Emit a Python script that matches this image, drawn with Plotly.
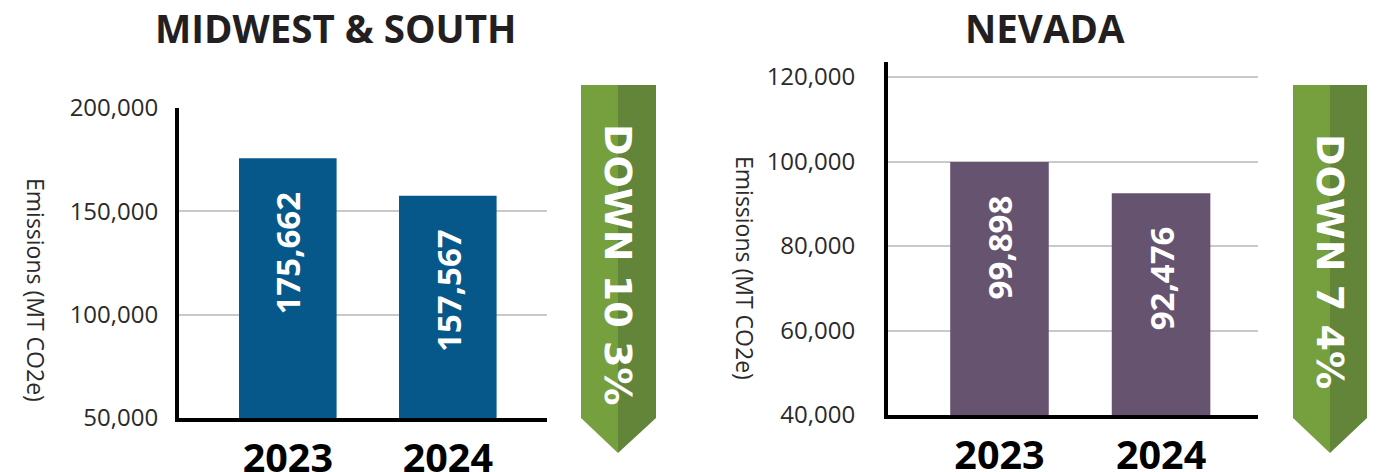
import plotly.graph_objects as go

W, H = 1389, 472

# ---- data ----
years = ["2023", "2024"]
midwest_values = [175662, 157567]
nevada_values = [99898, 92476]
midwest_title = "MIDWEST & SOUTH"
nevada_title = "NEVADA"
y_title = "Emissions (MT CO2e)"
midwest_change = "DOWN 10 3%"
nevada_change = "DOWN 7 4%"
midwest_ticks = [50000, 100000, 150000, 200000]
nevada_ticks = [40000, 60000, 80000, 100000, 120000]

# ---- style helpers (screen pixel -> paper); page body adds an 8px offset ----
OFF = 8

def px(x):
    return (x - OFF) / W

def py(y):
    return (H - (y - OFF)) / H

BLUE = "#07588a"
PURPLE = "#66536f"
GREEN_L = "#76a03e"
GREEN_D = "#62853a"
FONT = "Open Sans"

fig = go.Figure()
fig.add_trace(go.Bar(x=years, y=midwest_values, width=0.61, marker=dict(color=BLUE, line=dict(width=0)),
                     xaxis="x", yaxis="y", showlegend=False, hoverinfo="x+y"))
fig.add_trace(go.Bar(x=years, y=nevada_values, width=0.61, marker=dict(color=PURPLE, line=dict(width=0)),
                     xaxis="x2", yaxis="y2", showlegend=False, hoverinfo="x+y"))

axis_common_x = dict(type="category", showgrid=False, zeroline=False, showline=True, linecolor="#000000",
                     linewidth=4, ticks="", tickfont=dict(family=FONT, size=39.5, color="#000000", weight="bold"),
                     ticklabelstandoff=3, automargin=False, fixedrange=True)
axis_common_y = dict(showgrid=True, gridcolor="#c9c9cc", gridwidth=1.5, zeroline=False, showline=True,
                     linecolor="#000000", linewidth=4, ticks="", tickformat=",", automargin=False,
                     tickfont=dict(family=FONT, size=24, color="#2a2a2a"), fixedrange=True)

fig.update_layout(
    width=W, height=H,
    margin=dict(l=0, r=0, t=0, b=0, autoexpand=False),
    paper_bgcolor="#ffffff", plot_bgcolor="rgba(0,0,0,0)",
    xaxis=dict(domain=[px(179), px(547)], range=[-0.68, 1.62], anchor="y", **axis_common_x),
    yaxis=dict(domain=[py(418), py(108)], range=[50000, 200000], tickvals=midwest_ticks, anchor="x",
               ticklabelstandoff=12, **axis_common_y),
    xaxis2=dict(domain=[px(888), px(1258)], range=[-0.69, 1.60], anchor="y2", **axis_common_x),
    yaxis2=dict(domain=[py(415), py(62)], range=[40000, 123550], tickvals=nevada_ticks, anchor="x2",
                ticklabelstandoff=24, **axis_common_y),
)

annotations = []
# titles
annotations.append(dict(text=midwest_title, x=px(335), y=py(28), xref="paper", yref="paper",
                        xanchor="center", yanchor="middle", showarrow=False,
                        font=dict(family=FONT, size=38.5, color="#231f20", weight="bold")))
annotations.append(dict(text=nevada_title, x=px(1045), y=py(28), xref="paper", yref="paper",
                        xanchor="center", yanchor="middle", showarrow=False,
                        font=dict(family=FONT, size=38.5, color="#231f20", weight="bold")))
# y titles
annotations.append(dict(text=y_title, x=px(36), y=py(290), xref="paper", yref="paper", textangle=90,
                        xanchor="center", yanchor="middle", showarrow=False,
                        font=dict(family=FONT, size=23, color="#2a2a2a")))
annotations.append(dict(text=y_title, x=px(745), y=py(268), xref="paper", yref="paper", textangle=90,
                        xanchor="center", yanchor="middle", showarrow=False,
                        font=dict(family=FONT, size=23, color="#2a2a2a")))
# bar value labels (x given as category index)
for xr, yr, vals in [("x", "y", midwest_values), ("x2", "y2", nevada_values)]:
    for i, v in enumerate(vals):
        annotations.append(dict(text=f"{v:,}", x=i, y=v, xref=xr, yref=yr, textangle=-90,
                                xanchor="center", yanchor="top", yshift=-31, showarrow=False,
                                font=dict(family=FONT, size=33, color="#ffffff", weight="bold")))
# banner texts
annotations.append(dict(text=midwest_change, x=px(618), y=py(264), xref="paper", yref="paper", textangle=90,
                        xanchor="center", yanchor="middle", showarrow=False,
                        font=dict(family="DejaVu Sans", size=38, color="#ffffff", weight="bold")))
annotations.append(dict(text=nevada_change, x=px(1330), y=py(261), xref="paper", yref="paper", textangle=90,
                        xanchor="center", yanchor="middle", showarrow=False,
                        font=dict(family="DejaVu Sans", size=38, color="#ffffff", weight="bold")))

# banner shapes
def poly(points):
    return "M " + " L ".join(f"{px(a):.5f},{py(b):.5f}" for a, b in points) + " Z"

shapes = []
for left, mid, right in [(581, 618, 656), (1293, 1330, 1367)]:
    shapes.append(dict(type="path", xref="paper", yref="paper", layer="below",
                       path=poly([(left, 85), (mid, 85), (mid, 453), (left, 418)]),
                       fillcolor=GREEN_L, line=dict(width=0)))
    shapes.append(dict(type="path", xref="paper", yref="paper", layer="below",
                       path=poly([(mid, 85), (right, 85), (right, 418), (mid, 453)]),
                       fillcolor=GREEN_D, line=dict(width=0)))

fig.update_layout(annotations=annotations, shapes=shapes)
fig.write_html("out.html")
